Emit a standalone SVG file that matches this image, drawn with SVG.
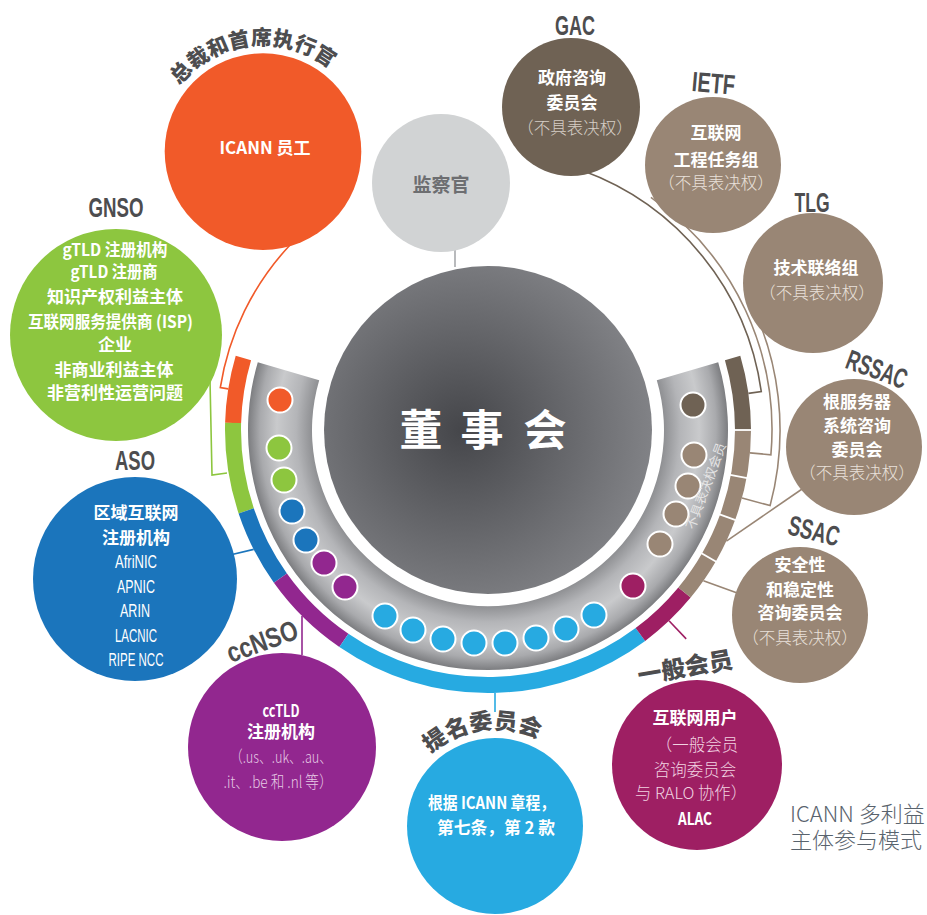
<svg xmlns="http://www.w3.org/2000/svg" width="927" height="915" viewBox="0 0 927 915">
<defs>
<radialGradient id="boardG" cx="0.42" cy="0.5" r="0.6">
<stop offset="0" stop-color="#45464a"/>
<stop offset="1" stop-color="#838488"/>
</radialGradient>
<radialGradient id="ringG" gradientUnits="userSpaceOnUse" cx="488" cy="430" r="240">
<stop offset="0.73" stop-color="#8d8e91"/>
<stop offset="0.80" stop-color="#b4b5b8"/>
<stop offset="0.88" stop-color="#c9cacc"/>
<stop offset="0.95" stop-color="#a9aaad"/>
<stop offset="1" stop-color="#7c7d80"/>
</radialGradient>
<path id="ceoArc" d="M165.3,109.1 A106.5,106.5 0 0 1 348.6,88.3"/>
<path id="nomArc" d="M405.3,789.2 A97,97 0 0 1 571.7,766.7"/>
</defs>
<style>
.cj{font-family:"Noto Sans CJK SC","Liberation Sans",sans-serif}
.t{fill:#fff;font-weight:700;font-size:17px;text-anchor:middle}
.l{font-weight:300;font-size:16.5px;text-anchor:middle}
.lb{fill:#e9e1da}
.lab{fill:#4d4d4f;font-family:"Liberation Sans",sans-serif;font-weight:700;font-size:28px;text-anchor:middle}
.labc{fill:#4d4d4f;font-weight:900;text-anchor:middle}
.dot{stroke:#fff;stroke-width:2}
.band{fill:none;stroke-width:16}
.con{fill:none;stroke-width:1.6}
.sep{stroke:#fff;stroke-width:1.8}
</style>

<!-- connectors -->
<g id="connectors">
<path class="con" stroke="#f15a29" d="M289.8,245.2 A271,271 0 0 0 220.3,387.6 L228.2,388.9"/>
<path class="con" stroke="#8dc63f" d="M210,380 L212,475 L227,473"/>
<path class="con" stroke="#1b75bc" d="M230,555 L253.7,549.4"/>
<path class="con" stroke="#92278f" d="M302,616 L302,655"/>
<path class="con" stroke="#27aae1" d="M495,693 L495,712"/>
<path class="con" stroke="#9e1f63" d="M669,620.8 L686.2,638.9"/>
<path class="con" stroke="#6f6254" d="M582.4,170.6 A276,276 0 0 1 761.3,391.6 L748.4,393.4"/>
<path class="con" stroke="#998675" d="M650.9,197.4 A284,284 0 0 1 770.9,454.8 L750,452.9"/>
<path class="con" stroke="#998675" d="M745.8,292.9 A292,292 0 0 1 770.1,505.6 L742,498.1"/>
<path class="con" stroke="#998675" d="M726.4,541.1 L805,487"/>
<path class="con" stroke="#998675" d="M703.4,580.8 L740,594"/>
<path class="con" stroke="#a7a9ac" d="M455,248 L455,267"/>
</g>

<!-- board of directors -->
<g id="n-board">
<path d="M257.8,362.2 A240,240 0 1 0 718.2,362.2 L656.8,380.3 A176,176 0 1 1 319.2,380.3 Z" fill="url(#ringG)"/>
<circle cx="488" cy="430" r="164" fill="url(#boardG)"/>
<g class="cj" fill="#fff" font-weight="700" font-size="43" text-anchor="middle">
<text x="421" y="446">董</text><text x="482" y="446">事</text><text x="545" y="446">会</text>
</g>
<g id="bands">
<path class="band" stroke="#f15a29" d="M243.4,358 A255,255 0 0 0 233.1,422.9"/>
<path class="band" stroke="#8dc63f" d="M233.1,422.9 A255,255 0 0 0 246.2,510.9"/>
<path class="band" stroke="#1b75bc" d="M246.2,510.9 A255,255 0 0 0 280.4,578.1"/>
<path class="band" stroke="#92278f" d="M280.4,578.1 A255,255 0 0 0 343.9,640.4"/>
<path class="band" stroke="#27aae1" d="M343.9,640.4 A255,255 0 0 0 640.4,634.5"/>
<path class="band" stroke="#9e1f63" d="M640.4,634.5 A255,255 0 0 0 684.5,592.5"/>
<path class="band" stroke="#998675" d="M684.5,592.5 A255,255 0 0 0 743,430"/>
<path class="band" stroke="#6f6254" d="M743,430 A255,255 0 0 0 732.6,358"/>
<line class="sep" x1="700.2" y1="552.5" x2="717.5" y2="562.5"/>
<line class="sep" x1="718.2" y1="513.8" x2="737" y2="520.6"/>
<line class="sep" x1="728.9" y1="474.7" x2="748.6" y2="478.3"/>
<line class="sep" x1="733" y1="430" x2="753" y2="430"/>
</g>
<g id="dots">
<circle class="dot" cx="280" cy="400" r="12.5" fill="#f15a29"/>
<circle class="dot" cx="279" cy="448" r="12.5" fill="#8dc63f"/>
<circle class="dot" cx="284" cy="480" r="12.5" fill="#8dc63f"/>
<circle class="dot" cx="292" cy="511" r="12.5" fill="#1b75bc"/>
<circle class="dot" cx="306" cy="540" r="12.5" fill="#1b75bc"/>
<circle class="dot" cx="324" cy="563" r="12.5" fill="#92278f"/>
<circle class="dot" cx="345" cy="587" r="12.5" fill="#92278f"/>
<circle class="dot" cx="385" cy="616" r="12.5" fill="#27aae1"/>
<circle class="dot" cx="413" cy="630" r="12.5" fill="#27aae1"/>
<circle class="dot" cx="443" cy="639" r="12.5" fill="#27aae1"/>
<circle class="dot" cx="474" cy="643" r="12.5" fill="#27aae1"/>
<circle class="dot" cx="505" cy="643" r="12.5" fill="#27aae1"/>
<circle class="dot" cx="536" cy="638" r="12.5" fill="#27aae1"/>
<circle class="dot" cx="566" cy="629" r="12.5" fill="#27aae1"/>
<circle class="dot" cx="594" cy="615" r="12.5" fill="#27aae1"/>
<circle class="dot" cx="633" cy="586" r="12.5" fill="#9e1f63"/>
<circle class="dot" cx="660" cy="544" r="12.5" fill="#998675"/>
<circle class="dot" cx="676" cy="514" r="12.5" fill="#998675"/>
<circle class="dot" cx="688" cy="486" r="12.5" fill="#998675"/>
<circle class="dot" cx="694" cy="455" r="12.5" fill="#998675"/>
<circle class="dot" cx="693" cy="405" r="12.5" fill="#6f6254"/>
</g>
<text class="cj" transform="translate(706,486) rotate(-69.6)" y="4.5" font-size="13" fill="#e4e4e4" text-anchor="middle">不具表决权会员</text>
</g>

<!-- ombudsman -->
<g id="n-ombudsman">
<circle cx="441" cy="183" r="69" fill="#d1d3d4"/>
<text class="cj" x="441" y="192" font-size="19" font-weight="700" fill="#6d6e71" text-anchor="middle">监察官</text>
</g>

<!-- CEO -->
<g id="n-ceo">
<circle cx="263" cy="151.6" r="98.3" fill="#f15a29"/>
<text class="cj t" x="265" y="153.5" font-size="18">ICANN 员工</text>
<text class="cj labc" font-size="21"><textPath href="#ceoArc" startOffset="50%">总裁和首席执行官</textPath></text>
</g>

<!-- GNSO -->
<g id="n-gnso">
<circle cx="116" cy="335" r="106" fill="#8dc63f"/>
<text class="lab" x="116" y="217" textLength="55" lengthAdjust="spacingAndGlyphs">GNSO</text>
<g class="cj t">
<text x="115" y="256.3" textLength="105" lengthAdjust="spacingAndGlyphs">gTLD 注册机构</text>
<text x="114" y="278.3" textLength="87" lengthAdjust="spacingAndGlyphs">gTLD 注册商</text>
<text x="115" y="303.3">知识产权利益主体</text>
<text x="110.5" y="328.3" textLength="165" lengthAdjust="spacingAndGlyphs">互联网服务提供商 (ISP)</text>
<text x="115" y="351.3">企业</text>
<text x="114" y="376.3">非商业利益主体</text>
<text x="115" y="399.3">非营利性运营问题</text>
</g>
</g>

<!-- ASO -->
<g id="n-aso">
<circle cx="135" cy="579" r="102" fill="#1b75bc"/>
<text class="lab" x="135" y="470" textLength="40" lengthAdjust="spacingAndGlyphs">ASO</text>
<g class="cj t" font-size="20">
<text x="136" y="519.4">区域互联网</text>
<text x="136" y="544.4">注册机构</text>
</g>
<g font-family="'Liberation Sans', sans-serif" fill="#fff" font-size="18.5" text-anchor="middle">
<text x="136" y="568" textLength="42" lengthAdjust="spacingAndGlyphs">AfriNIC</text>
<text x="136" y="593" textLength="38" lengthAdjust="spacingAndGlyphs">APNIC</text>
<text x="135" y="617" textLength="30" lengthAdjust="spacingAndGlyphs">ARIN</text>
<text x="136" y="642" textLength="42" lengthAdjust="spacingAndGlyphs">LACNIC</text>
<text x="136" y="666" textLength="55" lengthAdjust="spacingAndGlyphs">RIPE NCC</text>
</g>
</g>

<!-- ccNSO -->
<g id="n-ccnso">
<circle cx="282" cy="747" r="94" fill="#92278f"/>
<text class="lab" transform="translate(262,641) rotate(-20)" y="10" textLength="74" lengthAdjust="spacingAndGlyphs">ccNSO</text>
<text class="cj t" x="281" y="716.7" font-size="20" textLength="37" lengthAdjust="spacingAndGlyphs">ccTLD</text>
<text class="cj t" x="281" y="738.3">注册机构</text>
<g class="cj l" fill="#e6cbe5">
<text x="281" y="763" textLength="102" lengthAdjust="spacingAndGlyphs">（.us、.uk、.au、</text>
<text x="278" y="788" textLength="109" lengthAdjust="spacingAndGlyphs">.it、.be 和 .nl 等）</text>
</g>
</g>

<!-- NomCom -->
<g id="n-nomcom">
<circle cx="495" cy="826" r="88" fill="#27aae1"/>
<text class="cj labc" font-size="23"><textPath href="#nomArc" startOffset="50%">提名委员会</textPath></text>
<text class="cj t" x="491.5" y="809.3" textLength="127" lengthAdjust="spacingAndGlyphs">根据 ICANN 章程，</text>
<text class="cj t" x="496" y="834.3" textLength="118" lengthAdjust="spacingAndGlyphs">第七条，第 2 款</text>
</g>

<!-- At-Large -->
<g id="n-alac">
<circle cx="697" cy="765" r="85" fill="#9e1f63"/>
<text class="cj labc" transform="translate(685,667) rotate(-10)" y="9" font-size="24">一般会员</text>
<text class="cj t" x="695" y="724.3">互联网用户</text>
<g class="cj l" fill="#f1d3e1">
<text x="697" y="751.1">（一般会员</text>
<text x="695" y="776.1">咨询委员会</text>
<text x="691" y="799.1" textLength="112" lengthAdjust="spacingAndGlyphs">与 RALO 协作）</text>
</g>
<text class="cj t" x="695" y="825" font-size="15" textLength="34" lengthAdjust="spacingAndGlyphs">ALAC</text>
</g>

<!-- SSAC -->
<g id="n-ssac">
<circle cx="800" cy="615" r="68" fill="#998675"/>
<text class="lab" transform="translate(814,530.5) rotate(13.6)" y="10" textLength="52" lengthAdjust="spacingAndGlyphs">SSAC</text>
<g class="cj t">
<text x="800" y="571.3">安全性</text>
<text x="800" y="596.3">和稳定性</text>
<text x="800" y="619.3">咨询委员会</text>
</g>
<text class="cj l lb" x="800" y="644.1">（不具表决权）</text>
</g>

<!-- RSSAC -->
<g id="n-rssac">
<circle cx="854" cy="447" r="68" fill="#998675"/>
<text class="lab" transform="translate(877,369) rotate(20.4)" y="10" textLength="63" lengthAdjust="spacingAndGlyphs">RSSAC</text>
<g class="cj t">
<text x="857" y="408.3">根服务器</text>
<text x="857" y="432.3">系统咨询</text>
<text x="857" y="456.3">委员会</text>
</g>
<text class="cj l lb" x="857" y="479.1">（不具表决权）</text>
</g>

<!-- TLG -->
<g id="n-tlg">
<circle cx="813" cy="283" r="70" fill="#998675"/>
<text class="lab" x="812" y="212" textLength="35" lengthAdjust="spacingAndGlyphs">TLG</text>
<text class="cj t" x="816" y="274.3">技术联络组</text>
<text class="cj l lb" x="817" y="299.1">（不具表决权）</text>
</g>

<!-- IETF -->
<g id="n-ietf">
<circle cx="713" cy="165" r="68" fill="#998675"/>
<text class="lab" transform="translate(713.5,83) rotate(5)" y="10" textLength="43" lengthAdjust="spacingAndGlyphs">IETF</text>
<text class="cj t" x="716" y="139.3">互联网</text>
<text class="cj t" x="716" y="166.3">工程任务组</text>
<text class="cj l lb" x="716" y="189.1">（不具表决权）</text>
</g>

<!-- GAC -->
<g id="n-gac">
<circle cx="571" cy="107" r="69" fill="#6f6254"/>
<text class="lab" x="575" y="35" textLength="40" lengthAdjust="spacingAndGlyphs">GAC</text>
<text class="cj t" x="572" y="84.3">政府咨询</text>
<text class="cj t" x="572" y="109.3">委员会</text>
<text class="cj l" x="575" y="134.1" fill="#d6cfc6">（不具表决权）</text>
</g>

<!-- caption -->
<g id="caption" class="cj" font-size="22" font-weight="300" fill="#59636d">
<text x="790" y="822">ICANN 多利益</text>
<text x="790" y="848">主体参与模式</text>
</g>
</svg>
